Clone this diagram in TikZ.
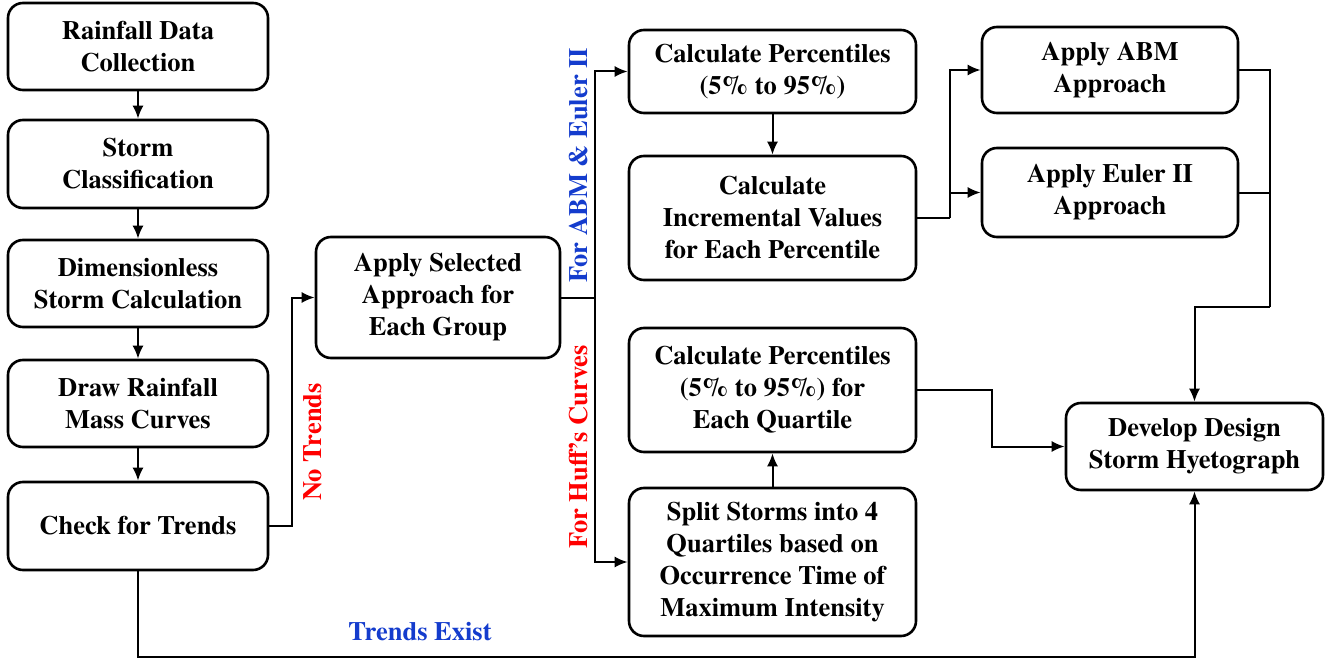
\documentclass[tikz,border=0pt]{standalone}
\usepackage{fontspec}
\setmainfont{texgyretermes}[Extension=.otf, UprightFont=*-regular, BoldFont=*-bold, ItalicFont=*-italic, BoldItalicFont=*-bolditalic]
\usetikzlibrary{arrows.meta}
\definecolor{lblblue}{RGB}{20,60,205}
\definecolor{lblred}{RGB}{255,0,0}
\begin{document}
\begin{tikzpicture}[x=1pt, y=-1pt, font=\fontsize{26.5}{32}\selectfont\bfseries,
    box/.style={draw, line width=2.6pt, rounded corners=15pt, align=center, inner sep=0pt},
    arr/.style={-{Latex[length=13pt,width=11pt]}, line width=2pt},
    wire/.style={line width=2pt}]
    \useasboundingbox (0,0) rectangle (1331,658);

    % left column
    \node[box, minimum width=260pt, minimum height=87pt] (collect) at (138,46.5) {Rainfall Data\\Collection};
    \node[box, minimum width=260pt, minimum height=88pt] (classify) at (138,164) {Storm\\Classification};
    \node[box, minimum width=260pt, minimum height=87pt] (dimless) at (138,283.5) {Dimensionless\\Storm Calculation};
    \node[box, minimum width=260pt, minimum height=87pt] (mass) at (138,403.5) {Draw Rainfall\\Mass Curves};
    \node[box, minimum width=260pt, minimum height=88pt] (check) at (138,526) {Check for Trends};

    \node[box, minimum width=244pt, minimum height=121pt] (apply) at (438,297.5) {Apply Selected\\Approach for\\Each Group};

    % middle column
    \node[box, minimum width=287pt, minimum height=83pt] (pct) at (772.5,71.5) {Calculate Percentiles\\(5\% to 95\%)};
    \node[box, minimum width=287pt, minimum height=124pt] (incr) at (772.5,218) {Calculate\\Incremental Values\\for Each Percentile};
    \node[box, minimum width=287pt, minimum height=124pt] (pctq) at (772.5,390) {Calculate Percentiles\\(5\% to 95\%) for\\Each Quartile};
    \node[box, minimum width=287pt, minimum height=148pt] (quart) at (772.5,562) {Split Storms into 4\\Quartiles based on\\Occurrence Time of\\Maximum Intensity};

    % right column
    \node[box, minimum width=256pt, minimum height=86pt] (abm) at (1110,70) {Apply ABM\\Approach};
    \node[box, minimum width=256pt, minimum height=89pt] (euler) at (1110,192.5) {Apply Euler II\\Approach};
    \node[box, minimum width=257pt, minimum height=87pt] (hyeto) at (1194.5,446.5) {Develop Design\\Storm Hyetograph};

    % branch labels
    \node[text=lblred, rotate=90] (notrend) at (313,442) {No Trends};
    \node[text=lblblue] (trendex) at (420,632) {Trends Exist};
    \node[text=lblblue, rotate=90] (forabm) at (579,165) {For ABM \& Euler II};
    \node[text=lblred, rotate=90] (forhuff) at (579,447) {For Huff's Curves};

    \coordinate (fork) at (595,297.5);
    \coordinate (low) at (138,657);
    \coordinate (merge) at (950,218);
    \coordinate (join) at (1270,307);

    \draw[arr] (collect) -- (classify);
    \draw[arr] (classify) -- (dimless);
    \draw[arr] (dimless) -- (mass);
    \draw[arr] (mass) -- (check);

    \draw[arr] (check.east) -- ++(23,0) |- (apply.west);
    \draw[arr] (check.south) -- (low) -| (hyeto.south);

    \draw[wire] (apply.east) -- (fork);
    \draw[arr] (fork) |- (pct.west);
    \draw[arr] (fork) |- (quart.west);

    \draw[arr] (pct) -- (incr);
    \draw[arr] (quart) -- (pctq);

    \draw[wire] (incr.east) -- (merge);
    \draw[arr] (merge) |- (abm.west);
    \draw[arr] (merge) |- (euler.west);

    \draw[wire] (abm.east) -| (join);
    \draw[wire] (euler.east) -- (euler.east -| join);
    \draw[arr] (join) -| (hyeto.north);

    \draw[arr] (pctq.east) -- (992,390) |- (hyeto.west);
\end{tikzpicture}
\end{document}
